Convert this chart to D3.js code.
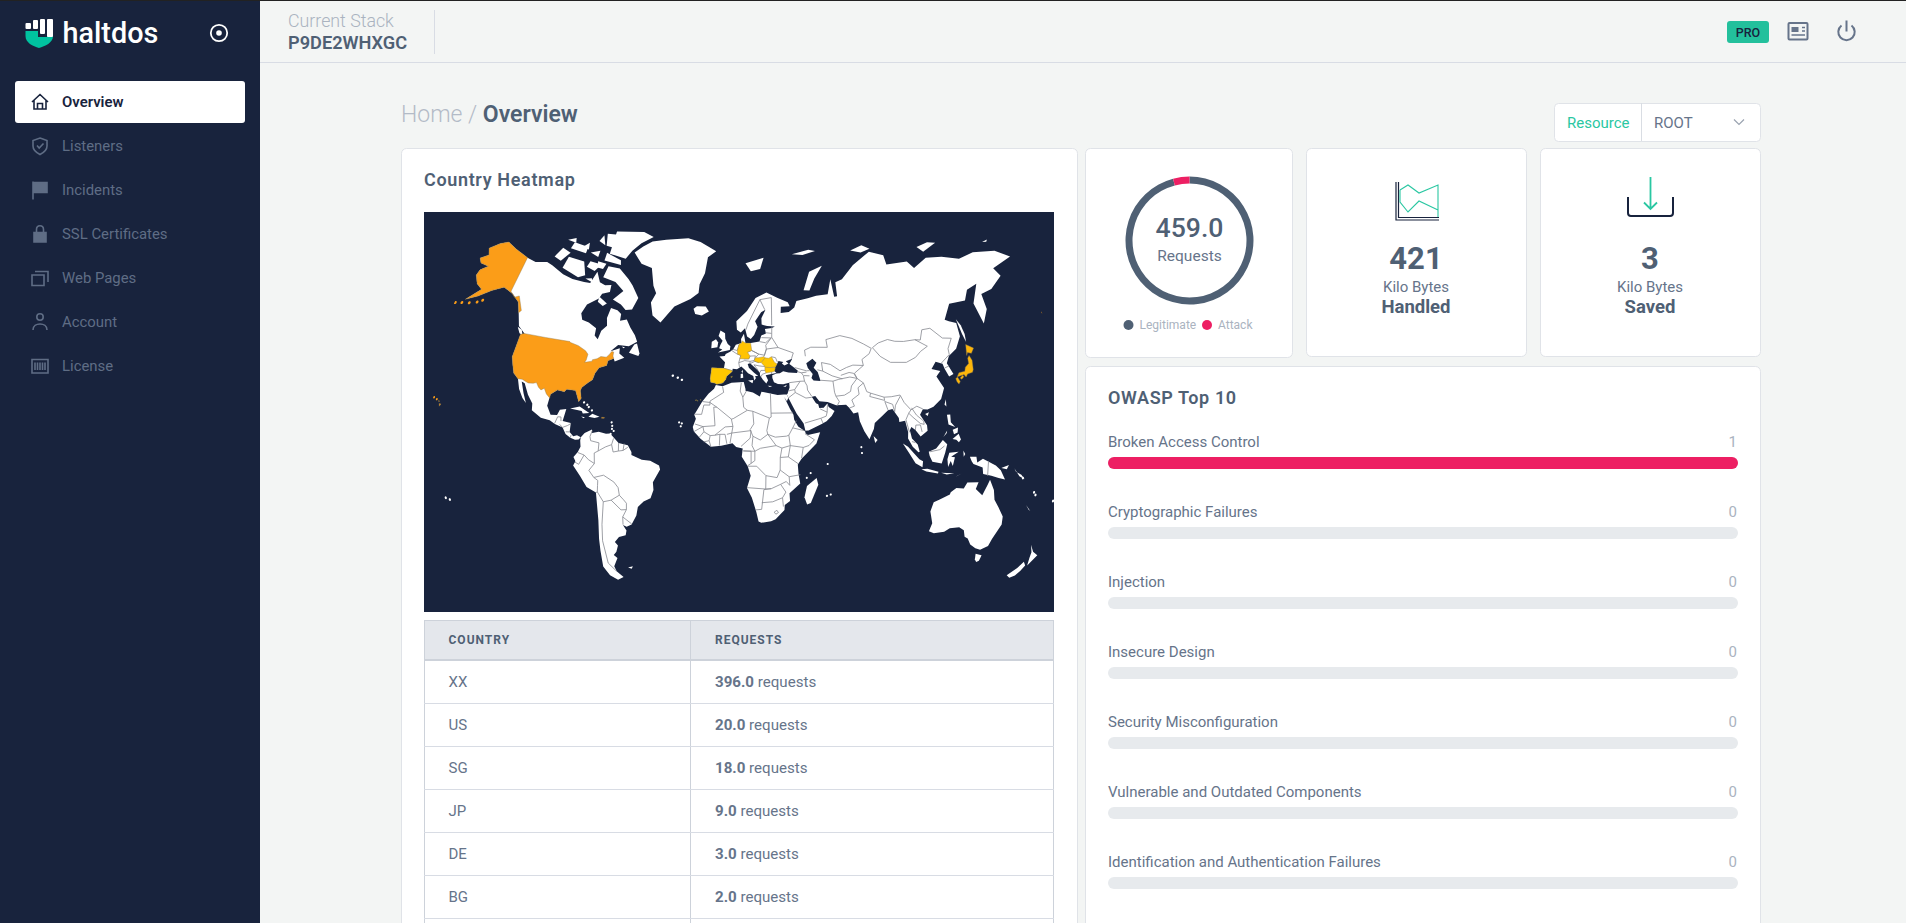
<!DOCTYPE html>
<html>
<head>
<meta charset="utf-8">
<script src="https://cdn.jsdelivr.net/npm/d3@7"></script>
<style>
  html, body { margin: 0; padding: 0; background: #f3f5f4; overflow: hidden; }
  svg { display: block; font-family: Roboto, "Noto Sans", sans-serif; }
</style>
</head>
<body>
<div id="wrapper"></div>
<script>
// table + owasp values
const navItems = ["Overview", "Listeners", "Incidents", "SSL Certificates", "Web Pages", "Account", "License"]
const countries = ["XX", "US", "SG", "JP", "DE", "BG"]
const requests = [396, 20, 18, 9, 3, 2]
const owaspNames = ["Broken Access Control", "Cryptographic Failures", "Injection", "Insecure Design",
  "Security Misconfiguration", "Vulnerable and Outdated Components", "Identification and Authentication Failures"]
const owaspValues = [1, 0, 0, 0, 0, 0, 0]
const donutNames = ["Legitimate", "Attack"]
const donutValues = [440, 19]

// map data, all [lon, lat]
const northAmerica = [[-168,65.6],[-164,67],[-166,68.4],[-161,70.3],[-156.5,71.3],[-150,70.5],[-141,69.6],[-135,69.3],[-128,70.2],[-124,69.8],[-115,68.5],[-108,68],[-100,68],[-96,68.2],[-94,71.5],[-90,69],[-86,68.5],[-82,69],[-81.5,67],[-86,66],[-87,64.5],[-93,62],[-94.5,59],[-92.5,57],[-88,56.5],[-82.5,55],[-82,52.5],[-79.5,51.3],[-79,54.5],[-76.5,56.5],[-78,59],[-77.5,62.4],[-73,62],[-70,61],[-69.5,58.8],[-65.5,59.5],[-62,57],[-58,54.5],[-55.7,52.2],[-60,50.2],[-66.5,50.2],[-70,47.5],[-65,49],[-64.5,47],[-61,45.5],[-66,43.6],[-67,44.8],[-70,43.7],[-70,41.7],[-74,40.5],[-75.5,38],[-76,35.2],[-78,33.9],[-81,31.5],[-81.3,30],[-80,26.8],[-81,25.1],[-82.7,28],[-84,30],[-89,30.2],[-90,29.1],[-94,29.6],[-97.2,27.5],[-97.7,22.5],[-95,18.6],[-91.5,18.6],[-90.4,21],[-87,21.5],[-88,16],[-83.5,15.2],[-83.6,11],[-81.5,9],[-79.5,9.5],[-77.4,8.6],[-78.5,7.5],[-80.4,7.3],[-83,8.3],[-85.7,10],[-87.6,13],[-92,14.5],[-95,16],[-100,17],[-105.5,20],[-106,23],[-109.4,26.5],[-112.8,31],[-114.7,31.6],[-112,27],[-109.5,23],[-112,25],[-115,28.5],[-117.2,32.5],[-120.5,34.5],[-122.5,37.5],[-124.4,40.4],[-124.6,48.3],[-122.5,48.9],[-127.5,51],[-130.5,54.5],[-134,58],[-139.5,59.8],[-146,60.8],[-152,59],[-158,56.5],[-164,54.7],[-158,58.5],[-162,59.5],[-165,61.5],[-164.5,63],[-161,64.5],[-166,64.6]]
const southAmerica = [[-77.4,8.6],[-75.5,10.7],[-71.7,12.4],[-71.5,10.8],[-68,11.5],[-64,10.5],[-61.8,10.7],[-57,6],[-52,5],[-50,1.5],[-50,0],[-44.5,-2.5],[-40,-3],[-35.3,-5.5],[-34.8,-7.5],[-37,-11],[-39,-14],[-39,-18],[-41,-22],[-45,-23.5],[-48.5,-26],[-50,-30],[-53.5,-34],[-56.5,-34.8],[-58.4,-34],[-57,-36.5],[-58,-38.5],[-62,-39],[-65,-41],[-63.7,-42.5],[-65.5,-45],[-67.5,-46.2],[-65.8,-47.5],[-69,-50.5],[-68.4,-52.4],[-65.2,-54.8],[-69,-55.5],[-73,-53.5],[-75.5,-50],[-74.5,-44],[-73.5,-39],[-71.5,-31],[-70.3,-18.3],[-75,-15.5],[-78,-10],[-81.3,-5],[-80,-3],[-81,-1],[-78.7,1.5],[-77.3,4],[-77.6,7]]
const africa = [[-5.9,35.8],[-2,35.2],[3,36.9],[10,37.3],[11,34],[11,33.2],[15.2,32.3],[19,30.3],[20,32.7],[25,31.7],[29,31],[32.5,31.2],[34.2,31.2],[34.9,29.5],[34,27.8],[32.6,29.9],[35.5,24],[37.2,21],[37.5,18.5],[39.5,15],[43.2,12.3],[43.3,11.5],[44.5,10.5],[51.2,11.9],[49,6],[44,1],[41,-2],[39,-5],[39.5,-10],[40.6,-15],[35,-20],[35.5,-24],[32.7,-26],[32.7,-28.5],[28,-33],[25.5,-34],[20,-34.8],[18.4,-34.2],[17,-29.5],[14.5,-22.5],[11.8,-17.5],[13.8,-11],[12.2,-6],[9,-1],[9.5,3.5],[6,4.3],[4,6.3],[-2,5],[-7.5,4.4],[-13,8.5],[-16.8,12.4],[-17.5,14.7],[-16,19],[-17,21],[-13,27.7],[-9.8,31.5],[-6.8,34]]
const eurasia = [[-9.3,38.7],[-8.9,37],[-6.3,36.6],[-5.4,36.1],[-2,36.8],[-0.3,38.5],[0,39.8],[3.2,42],[3.5,43.3],[6,43],[8.5,44.3],[10.5,42.9],[12.5,41.3],[15.5,40],[16,38],[17,39],[16.6,40],[18.4,40],[16,41.5],[13,43.7],[12.3,45.3],[13.7,45.7],[14.7,45],[18,42.7],[19.4,41.5],[19.4,40.3],[21,38.3],[22.9,36.5],[24,38],[22.7,40.3],[26,40.8],[29,41.2],[27.5,42.5],[28.6,44],[29.7,45.2],[30.7,46.5],[33.5,46],[32.6,45.3],[34,44.4],[36.5,45.2],[35,46.2],[39,47.2],[37,45],[39,43.8],[41.6,42],[41,41],[36,41.3],[33,42],[31,41.1],[29,41],[26.5,40.3],[26.5,39],[27.3,37],[29.5,36.2],[32.5,36],[36,36.7],[36,34.5],[34.6,31.5],[34.2,31.2],[34.9,29.5],[37,25.5],[39,21.5],[42.5,16.5],[43.3,12.8],[45,12.8],[52,16],[55,17.5],[58,20],[59.8,22.5],[56.8,24.5],[56.3,26.2],[54,24.2],[51.6,24.2],[51.2,26],[50,26.5],[48,29.8],[50,30],[52,27.5],[56.5,27],[61,25.2],[66.5,25.3],[68,23.8],[70,21],[72.6,21.5],[73,17],[75,12],[77.5,8],[80.2,13],[81,16],[86.5,20],[89,21.8],[91.5,22.3],[94.3,18],[94.3,16],[97.5,16.5],[98.5,11],[98.2,8],[100.5,4],[103.5,1.3],[104.2,1.5],[103.2,5],[100.3,8],[99.5,12],[100.5,13.5],[102.5,12],[105,8.8],[109,11.5],[109,14],[106,19],[108,21.5],[110.5,21.2],[114,22.3],[119,25.5],[122,30],[121,32],[119.5,35],[122.5,37],[118,38.2],[121.5,40.8],[125,39.7],[125.3,37.7],[126.5,34.5],[129.3,35.3],[127.5,39.7],[130,42.3],[135.5,44.5],[140.3,48.5],[141.3,53],[137.5,54],[135.5,54.8],[142,59.2],[152,59],[156,61.7],[163,62.5],[156,57.5],[156.7,51],[162,55],[163,59.5],[170,60],[179,62.5],[177,64.8],[190,66],[183,68.5],[170,70],[160,69.7],[150,71.5],[140,72.5],[130,71],[127,73],[113,73.7],[113,76],[104,77.7],[90,75.5],[80,72.5],[75,72],[74,68],[72,68],[72,73],[68,69],[60,69],[54,68.5],[46,68],[44,66],[40,64.7],[34.5,64.5],[35,66.5],[41,66.5],[40,67.8],[33,69.4],[25.8,71.1],[18,69.5],[12,65.5],[5,62],[5.5,59],[8,58],[10.7,59.5],[12,56.5],[14.3,55.5],[16.5,57],[18.8,60],[17.3,62],[21.5,65],[24.5,65.8],[21.5,63],[21.5,60.8],[25,60.2],[30,60],[28,59.5],[23.5,59.2],[24,57.5],[21,56.8],[19.7,54.5],[14.3,54],[11,54],[10,57.5],[8.2,55.5],[8.5,54],[5,53.3],[3.5,51.5],[1.6,50.5],[-1,49.5],[-1.5,48.7],[-4.7,48.4],[-1.2,46],[-1.7,43.4],[-8.9,43.5]]
const australia = [[114,-21.8],[117,-20.5],[122,-18],[122.3,-17],[125,-15],[129,-15],[130.5,-12.3],[136.5,-12],[135.5,-15],[139.5,-17.5],[141.5,-13],[142.5,-10.7],[145.3,-15],[146.5,-19],[149.5,-22],[153,-25.5],[153.6,-28.6],[150.8,-34.5],[150,-37.3],[146.4,-39.1],[143.5,-38.8],[140,-37.7],[137.5,-35.5],[135.5,-35],[134,-32.5],[131,-31.5],[126,-32.3],[123.5,-34],[118,-35],[115,-34.4],[115.7,-31],[113.2,-26]]
const greenland = [[-73,78.2],[-66,76],[-58,75.5],[-54,71],[-51,69],[-53,66],[-50,62],[-44,60],[-41,62.5],[-37,65.7],[-27,68.5],[-22,70.5],[-22,73],[-19,76],[-18,80],[-12,81.5],[-25,83.2],[-35,83.6],[-52,82.5],[-62,81.5],[-68,80]]
const islands = [
  [[-80,73.7],[-72,71.5],[-68,70],[-62,66.8],[-64,63],[-68,62.5],[-72,64],[-78,65],[-73,68],[-80,70],[-89,70.5],[-88,73.5]],
  [[-117,70],[-105,68.8],[-101,69.8],[-105,73],[-116,73]],
  [[-125,72],[-120,71.5],[-116,74],[-122,74.5]],
  [[-90,76.5],[-78,76.3],[-75,78.5],[-62,82.5],[-70,83],[-90,81.5]],
  [[-92,74.6],[-80,74.6],[-81,75.7],[-92,76.5]],
  [[-117,75],[-106,75],[-106,76.5],[-116,76.5]],
  [[-94,78],[-88,78],[-88,81],[-96,80.5]],
  [[-87,65],[-81,63.5],[-83,62.5],[-87,63.5]],
  [[-59,47.7],[-53,46.7],[-52.7,47.8],[-55.5,51.5],[-57,51]],
  [[-128,50.7],[-125,50],[-123.4,48.4],[-125.5,48.8]],
  [[-102,72],[-96,71.5],[-93,73.5],[-101,73.5]],
  [[-96,74],[-90,74],[-91,72.5],[-95,72.5]],
  [[-121,76.5],[-115,76.5],[-116,77.5]],
  [[-103,75.5],[-97,75],[-97,76.5]],
  [[-100,69],[-95,68.5],[-96,69.5]],
  [[-110,76],[-105,76],[-106,77.5]],
  [[-100,78.5],[-95,78],[-98,80]],
  [[-64,49.8],[-62,49.5],[-63,49.2]],
  [[-24,65.5],[-22,66.4],[-16,66.5],[-13.6,65],[-18,63.5],[-22.5,63.9]],
  [[-85,21.9],[-80,23],[-74.2,20.2],[-77.7,19.9],[-78.5,21]],
  [[-74.4,18.5],[-72.5,20],[-68.4,18.7],[-71,18]],
  [[-78.3,18.4],[-76.3,18.2],[-77,17.7]],
  [[-5.7,50],[1.4,51.2],[1.7,52.7],[0,53.5],[-1.7,55.5],[-2,57.6],[-5,58.6],[-6,56.5],[-3.3,54.8],[-4.5,53.2],[-5.2,51.8],[-3.2,51.3]],
  [[-10,51.7],[-6.3,52.2],[-6,54],[-7.5,55.3],[-10,54.2]],
  [[12.5,38],[15.5,38.2],[15,36.7]],
  [[8.2,39],[9.7,39.2],[9.5,41.2],[8.2,40.9]],
  [[8.6,41.9],[9.5,42.8],[9.4,41.4]],
  [[23.6,35.5],[26.2,35.3],[24.8,34.9]],
  [[32.4,35],[34.5,35.6],[33.9,34.8]],
  [[11,79],[25,80.2],[22,77.5],[15,77]],
  [[52,71],[56,70.7],[68,76.8],[58,75.8]],
  [[49.3,-12],[50.4,-15.5],[47,-24.8],[45,-25.5],[43.3,-22],[44.3,-16.2]],
  [[79.8,9.5],[81.8,7.5],[80.5,6]],
  [[108.8,19.3],[111,20],[110,18.3]],
  [[120.2,23],[121.5,25.2],[121,22]],
  [[142,54.2],[143.3,52],[143.5,49],[142.5,46.2],[142,49]],
  [[120.5,18.4],[122.3,18.4],[122,15],[124,12.7],[120.6,14]],
  [[122,7.3],[125.5,9.7],[126.5,7],[125.3,5.8],[124,7]],
  [[122.5,11.5],[125.5,12.5],[125,10.2],[123,9.5]],
  [[117.2,8.4],[119.5,11.3],[119.2,10.2]],
  [[95.3,5.6],[98,4],[104,-2],[106,-3],[105.8,-5.8],[102,-4],[98.5,1]],
  [[105.3,-6.8],[108.5,-6.5],[114.5,-7.8],[114.3,-8.7],[108,-7.8]],
  [[109,1.5],[113,3],[116.8,7],[119,5],[117.8,1],[116,-4],[111,-3.2],[109.5,-0.5]],
  [[119.5,-5.5],[119,-2],[120,1],[125,1.5],[121,-0.8],[123,-1],[122,-5],[120.8,-2.8]],
  [[131,-0.8],[134.5,-0.8],[135,-3.3],[138,-1.7],[145,-4.5],[147.8,-6.5],[150.5,-10.4],[147,-9.8],[143,-9],[138.5,-8.3],[138,-5.5],[133,-4],[132,-2.8]],
  [[116,-8.3],[119,-8.3],[123,-8.3],[119,-9]],
  [[123.5,-10.2],[127,-8.4],[125,-9.3]],
  [[127.5,2],[128.5,0.5],[127.7,-0.8]],
  [[148,-5.6],[152,-4.2],[151,-6]],
  [[155,-5.5],[156,-7],[159,-8.2],[161,-10],[158,-8.8]],
  [[164,-20.2],[167,-22.3],[166,-21.9]],
  [[144.7,-40.7],[148.3,-40.9],[148,-43],[146.8,-43.6],[145.5,-42.8]],
  [[166.5,-46],[168.5,-46.6],[171,-45.5],[172.8,-43.8],[174.2,-41.7],[172.7,-40.6],[170.5,-43]],
  [[173,-34.5],[175.5,-36.8],[178.5,-37.7],[177,-39.5],[175.3,-41.6],[174.8,-39],[174.7,-37]],
  [[91,79],[100,79.5],[105,78.3],[98,78]],
  [[137,75.5],[145,75.7],[150,75],[140,74]],
  [[178.5,71.3],[181,71],[182,71.4]],
  [[47,80.5],[60,81],[65,80.5],[55,80]],
  [[-61,-51.5],[-58,-51.3],[-59,-52.2]]
]
const caspian = [[47,45],[51,46.8],[53,45],[51,43],[53,41],[54,37],[50,37.3],[49,38.5],[50,40.3],[47.6,43]]
const tinyIslands = [[-25.5,37.7],[-28,38.6],[-31,39.4],[-61,14.5],[-61.5,16.2],[-61,13],[-61.5,10.5],[-60,12],[-24,15],[-23.5,16.5],[-25,17],[73,4],[73.3,1],[57.5,-20.3],[55.5,-21],[44,-12],[46,-9.5],[55,-4.7],[168,-16],[167,-15],[178,-17.8],[160,-9.5],[-78,25],[-76,24],[-75,23],[-73,21.5],[-149.5,-17.6],[-151.5,-16.8]]

// coloured countries
const contigUS = [[-124.7,48.4],[-123,49],[-110,49],[-95.2,49],[-94.6,48.7],[-89.5,48],[-84.5,46.5],[-82.5,45.3],[-82.5,43],[-83,42],[-79,42.8],[-79,43.4],[-76.5,44],[-74.7,45],[-71.5,45],[-70.3,46],[-69.2,47.4],[-68,47.3],[-67.8,45.7],[-67,44.8],[-70,43.7],[-70,41.7],[-74,40.5],[-75.5,38],[-76,35.2],[-78,33.9],[-81,31.5],[-81.3,30],[-80,26.8],[-81,25.1],[-82.7,28],[-84,30],[-89,30.2],[-90,29.1],[-94,29.6],[-97.2,27.5],[-97.2,25.9],[-99.5,27.5],[-101.4,29.8],[-103,29],[-104.7,30],[-106.5,31.8],[-108.2,31.4],[-111,31.3],[-114.8,32.5],[-117.2,32.5],[-120.5,34.5],[-122.5,37.5],[-124.4,40.4]]
const alaska = [[-168,65.6],[-164,67],[-166,68.4],[-161,70.3],[-156.5,71.3],[-150,70.5],[-141,69.6],[-141,60.3],[-137.5,59],[-135,59.7],[-130,55.8],[-131,55],[-134,58],[-139.5,59.8],[-146,60.8],[-152,59],[-158,56.5],[-164,54.7],[-158,58.5],[-162,59.5],[-165,61.5],[-164.5,63],[-161,64.5],[-166,64.6]]
const honshu = [[130.9,34],[132.5,35.5],[136,35.8],[137,37.3],[139.5,38.5],[140,40.5],[141.3,41.4],[142,39.5],[140.9,36],[140,35],[137,34.6],[135.7,33.5],[135,34.6],[132.5,34.2]]
const hokkaido = [[140,41.5],[141.7,45.4],[145.3,43.7],[143,42],[141,42.5]]
const kyushu = [[129.8,33.3],[131,33.9],[131.8,32],[130.7,31],[130,32]]
const shikoku = [[132.3,33.4],[134.2,34.3],[134.5,33.7],[133,32.8]]
const germany = [[6,51],[7,53.5],[8.5,54],[9,54.8],[11,54],[14.2,53.9],[14.8,51],[12.2,50.3],[13.7,48.7],[13,47.5],[7.6,47.6],[8.2,49],[6.2,49.5]]
const iberia = [[-9.3,38.7],[-8.9,37],[-6.3,36.6],[-5.4,36.1],[-2,36.8],[-0.3,38.5],[0,39.8],[3.2,42],[3.2,42.4],[-1.7,43.4],[-8.9,43.5]]
const romania = [[22.7,47.9],[24.9,47.7],[26.6,48.3],[28.2,46],[29.7,45.2],[28.6,43.9],[25.5,43.7],[22.9,43.9],[22,44.5],[20.3,46]]
const bulgaria = [[22.4,44.2],[25.5,43.7],[28.6,43.7],[28,42],[26.3,41.7],[22.9,41.3],[22.4,42.5]]
const hungary = [[16.2,46.8],[17,48],[18.8,48],[22.1,48.4],[22.7,47.9],[20.3,46],[18.8,45.9],[16.6,46.5]]
const puertoRico = [[-67.2,18.5],[-65.6,18.4],[-65.8,18],[-67.2,18]]
const hawaii = [[-156,19.9],[-155,19.8],[-155.6,18.9]]
const maui = [[-156.7,21],[-156,20.8],[-156.4,20.5]]
const balearic = [[2.4,39.6],[3.4,39.9],[3.1,39.3]]
const canaries = [[[-16.9,28.4],[-16.2,28.5],[-16.5,28]], [[-15.8,28.2],[-15.3,28],[-15.6,27.8]], [[-14.2,28.6],[-13.8,28.7],[-13.9,28.2]]]
const usDots = [[-157.8,21.4],[-159.5,22]]
const aleutianDots = [[-179.5,51.5],[-176,52],[-172,52.5],[-168,53.3],[-165.5,54.2]]
const coloredShapes = [
  { name: "US", value: 20, rings: [contigUS, alaska, hawaii, maui] },
  { name: "PR", value: 20, rings: [puertoRico] },
  { name: "JP", value: 9, rings: [honshu, hokkaido, kyushu, shikoku] },
  { name: "DE", value: 3, rings: [germany] },
  { name: "BG", value: 2, rings: [bulgaria] },
  { name: "RO", value: 2, rings: [romania] },
  { name: "HU", value: 2, rings: [hungary] },
  { name: "ES", value: 1, rings: [iberia, balearic, ...canaries] },
]

const borders = [
  [[-92.2,14.6],[-91,17.8],[-89.2,17.8],[-88.9,15.9]],[[-89.4,14.4],[-87.7,13],[-85,14],[-83.3,15]],[[-85.7,11],[-83.6,11]],[[-83,8.3],[-82.7,9.5]],
  [[-71.5,12],[-72.5,9],[-72,7],[-67.5,6],[-67.8,2]],[[-67.8,2],[-64,4],[-60.7,5.2]],[[-60.7,5.2],[-59.8,8.3]],[[-60.7,5.2],[-59.8,1.5],[-57,2],[-54.5,2.3],[-52,3.9]],[[-57,6],[-57,2]],[[-54,5.8],[-54.5,2.3]],
  [[-67.8,2],[-69.9,1],[-69.9,-4.2],[-73,-2.3],[-75.3,0],[-78.7,1.2]],[[-75.3,0],[-78.3,-4.5],[-80.3,-3.4]],[[-69.9,-4.2],[-73,-7.5],[-70.6,-11]],
  [[-70.6,-11],[-65.3,-10],[-60,-13.5],[-58,-16.3],[-57.8,-20],[-62.6,-22.2],[-67,-22.8],[-69.5,-18],[-69,-15],[-68.6,-12.5],[-70.6,-11]],[[-69.5,-18],[-70.3,-18.3]],
  [[-67,-22.8],[-70,-33],[-71.8,-40],[-72,-49],[-68.5,-52.3]],[[-62.6,-22.2],[-58,-27],[-55,-27],[-54.5,-24],[-55.8,-22.3],[-57.8,-20]],[[-55,-27],[-57.7,-30.3],[-58.3,-33.8]],[[-57.7,-30.3],[-53.4,-33.7]],
  [[-2,35],[-1.3,32.3],[-8.7,28],[-8.7,27.3]],[[-13,27.7],[-8.7,27.3],[-8.7,26],[-12,26],[-13,21.3],[-17,21.3]],[[-8.7,27.3],[-4.8,25],[-6.5,25],[-5.5,15.5],[-12,15],[-16.4,16.3]],
  [[8.6,36.9],[8,33],[9.5,30],[10,25],[12,23.5]],[[11.5,33],[9.5,30]],[[-4.8,25],[3.3,19],[4.3,19.2],[12,23.5]],[[3.3,19],[4.2,15.2],[0,14.9],[-5.5,10.5],[-8,10.3],[-11.4,12.3],[-12,15]],
  [[25,31.7],[25,20]],[[25,22],[37,22]],[[12,23.5],[15,23],[24,19.5],[25,20]],[[15,23],[15.5,16.5],[13.5,13.5],[15,10],[18.9,8],[23,11],[22.5,13],[24,19.5]],
  [[4.2,15.2],[3.6,11.7],[14,13]],[[3.6,11.7],[2.7,6.3]],[[14,13],[13.5,9],[8.6,4.6]],[[15,10],[14.5,5],[16,2],[9.8,2.2]],[[27.4,5],[19,3.6],[16,2]],
  [[23,11],[27,9.5],[33,10],[34.3,10.5],[35,5],[30.5,3.7],[27.4,5],[23,11]],[[34.3,10.5],[36.5,14.3],[38.6,18]],[[36.5,14.3],[42.8,12.8]],
  [[43,11.2],[48,8],[45,5],[41.9,4],[35,5]],[[41.9,4],[41,-1.6]],[[33.9,-1],[39.2,-4.6]],[[35,5],[33.9,-1],[29.6,-1.3],[30.5,3.7]],
  [[12.2,-6],[17,-6],[22,-11],[28,-12],[29.6,-8],[29.6,-1.3]],[[9.8,2.2],[14,2],[14,-4.5],[12.2,-5.7]],[[16,2],[16,-3],[14,-4.5]],
  [[29.6,-8],[34.5,-11.5],[40.5,-10.4]],[[34.5,-11.5],[35,-16],[33,-14]],[[22,-11],[22,-18],[11.8,-17.3]],[[25,-17.8],[21,-18.3],[20,-28.3],[16.5,-28.6]],
  [[22,-18],[25,-17.8],[30,-15.5],[33,-14]],[[30,-15.5],[33,-19.5],[31.3,-22.4]],[[20,-25],[26,-24.5],[31.3,-22.4],[32,-26.8]],[[27,-29.6],[28.5,-28.7],[29.4,-29.8],[28,-30.6],[27,-29.6]],
  [[-8,10.3],[-8.5,7.6],[-7.5,4.4]],[[-11.4,12.3],[-13.7,9.5]],[[-11.4,7],[-8.5,7.6]],[[-3,5],[-2.8,11],[0,11],[1,6]],[[-5.5,10.5],[-2.8,11]],[[1,11],[3.6,11.7]],[[-12,15],[-16.7,12.4]],
  [[36,36.7],[42.3,37.2],[44.8,37.2]],[[44.8,37.2],[44.5,39.7],[43.5,41]],[[41.6,41.5],[43.5,41]],[[39.9,43.4],[46.5,41.8],[48.5,41.8]],[[43.5,41],[46.5,41.2]],[[44.8,39.7],[48,39.5]],
  [[44.8,37.2],[46,35],[46,33],[48,30]],[[39,32],[44.7,29.2],[48,29.5]],[[35,29.5],[39,32],[38.8,33.4],[36,33],[35.5,32.7]],[[38.8,33.4],[42.3,37.2]],
  [[43.2,16.7],[52,19],[55,20],[55.7,22],[52,23.7]],[[52,19],[53,16.6]],[[55.7,22],[56.3,25.8]],
  [[54,37.3],[61,36.6],[61,31.5],[61.5,29.6],[63,27],[61.6,25]],[[61,36.6],[64.5,37.3],[71,38],[74.9,37.2],[71,34],[70,31.5],[66.3,29.9],[61.5,29.6]],
  [[53,42],[56,41.3],[56,45],[61,44],[66,41],[70,42.2],[74,43],[80,42.5]],[[56,41.3],[61,39],[66.5,37.4]],[[66,39],[71,40],[73.5,39.5],[74.9,37.2]],
  [[47,48],[47,50.5],[51,51.5],[61,51],[61,54],[70,55],[77,53.5],[83,51],[87,49]],[[87,49],[85,47],[80,45],[80,42.5]],
  [[87.8,49.2],[92,50.7],[98,51.5],[102,50.5],[107,50],[114,50],[119.8,47],[115,45.5],[111,43.5],[105,42],[96,42.7],[91,45.5],[87.8,49.2]],
  [[114,50],[117,49.6],[120,53],[125,53],[130,49],[135,48.4],[131,45],[130.5,42.8]],[[130.5,42.8],[124.4,40]],[[125.5,38],[128.3,38.6]],
  [[80,42.5],[74,39.5],[74.9,37.2],[78,35],[79,31],[81,30.2],[88,28],[92,28],[97,28.5],[98.5,25],[101.5,21.5],[105,23],[108,21.6]],
  [[78,35],[74.5,33],[74.5,30],[70,27.5],[71,24.5],[68.2,23.7]],[[81,30.2],[80.2,28.7],[88,26.5],[88,28]],[[88,26],[89,22]],[[88,26],[92,24.5],[92.5,21]],[[97,28],[93.5,24],[92.5,21]],
  [[101.5,21.5],[100,20],[98,17],[99.2,11]],[[102,22.4],[104,19],[107.5,16],[107.5,14.5]],[[100,20],[102,18],[105.5,15],[107.5,14.5]],[[102.5,12],[103,14.3],[105.5,14.3],[106,11]],[[100.2,6.5],[102,6]],
  [[109.5,1.5],[115,2.5],[117.5,4.2]],[[141,-2.6],[141,-9.1]],
  [[29,69.5],[28,60.5]],[[29,69.5],[21,69],[24,65.8]],[[21,69],[12.5,61],[11.3,59]],[[28,60],[27.5,56],[31,52],[40,49.6],[38.5,47.2]],[[27.5,56],[23.5,53],[23.8,51.5],[31,52]],[[23.8,51.5],[22.1,48.4]],[[26.6,48.3],[29,47.9],[30,46]],
  [[19.7,54.5],[23.5,54]],[[14.8,51],[19,49.5],[22.5,49],[23.8,51.5]],[[21,56],[27,55.8],[23.5,54]],[[24,57.8],[27.5,57.5]],
  [[2.5,51],[6,49.5],[8.2,49],[7.6,47.6],[7,45.9],[7.5,43.8]],[[-1.7,43.4],[3.2,42.4]],[[3.4,51.4],[6,51],[7,53.3]],[[7,45.9],[10.5,46.8],[13.7,46.5],[13.7,45.6]],[[10,47.5],[13,47.6],[13.7,48.7],[17,48.8],[16.2,46.8],[13.7,46.5]],
  [[12.2,50.3],[14.8,51],[19,49.5],[17,48]],[[13.7,45.5],[16.6,46.5],[19,45.9]],[[22.4,44.2],[19,44.5],[16,45],[18.5,42.5]],[[22.4,42.5],[20,42.5],[19.4,41.5]],[[22.9,41.3],[20.8,40.8],[20,39.7]],[[26.3,41.7],[26,40.8]]
]

const NAVY = "#18233d", SLATE = "#4f6074", MUTED = "#66748a", PALE = "#aab3c0", LINE = "#d8dce4", GREEN = "#23c09c", PINK = "#ed1f63"
const svg = d3.select("#wrapper").append("svg").attr("width", 1906).attr("height", 923)

svg.append("rect").attr("width", 1906).attr("height", 923).attr("fill", "#f3f5f4")
svg.append("rect").attr("width", 1906).attr("height", 1).attr("fill", "#222")
svg.append("line").attr("x1", 260).attr("x2", 1906).attr("y1", 62.5).attr("y2", 62.5).attr("stroke", LINE)

const label = (parent, x, y, txt, size, color, weight = 400, anchor = "start") => parent.append("text")
  .attr("x", x).attr("y", y).attr("font-size", size).attr("fill", color).attr("font-weight", weight)
  .attr("text-anchor", anchor).attr("dominant-baseline", "central").text(txt)

// sidebar
const side = svg.append("g")
side.append("rect").attr("y", 1).attr("width", 260).attr("height", 922).attr("fill", NAVY)
side.append("path").attr("d", "M25.5 31H38V37H47V31H53V36C53 43 45 46 39 48C33 46 25.5 43 25.5 36Z").attr("fill", "#00c2a0")
;[[25.5, 23, 5.5, 6], [33, 20, 5, 9], [40, 19, 5, 15], [47, 19, 6, 18]].forEach(d => side.append("rect")
  .attr("x", d[0]).attr("y", d[1]).attr("width", d[2]).attr("height", d[3]).attr("rx", 1).attr("fill", "#fff"))
label(side, 62.5, 33, "haltdos", 28.8, "#fff", 500)
side.append("circle").attr("cx", 219).attr("cy", 33).attr("r", 8.2).attr("fill", "none").attr("stroke", "#fff").attr("stroke-width", 1.8)
side.append("circle").attr("cx", 219).attr("cy", 33).attr("r", 2.8).attr("fill", "#fff")
side.append("rect").attr("x", 15).attr("y", 81).attr("width", 230).attr("height", 42).attr("rx", 3).attr("fill", "#fff")

const navY = d3.scalePoint().domain(navItems).range([102, 366])
const navIcons = [
  "M-8 0L0 -7.5L8 0M-6 -1.5V7H6V-1.5M-2.5 7V1.5H2.5V7",
  "M0 -8L7 -5.5V0C7 4 4 6.5 0 8.5C-4 6.5 -7 4 -7 0V-5.5ZM-3 -0.5L-0.8 2L3.5 -2.5",
  "M-7 -8.5V9.5M-6 -7.5H7V2.5H-6Z",
  "M-6 -1.5H6V8H-6ZM-3.5 -1.5V-4.5C-3.5 -9.5 3.5 -9.5 3.5 -4.5V-1.5",
  "M-8 -3H4V7.5H-8ZM-5 -6.5H8V4",
  "M-7 8C-7 0 7 0 7 8M3.2 -5A3.2 3.2 0 1 1 -3.2 -5A3.2 3.2 0 1 1 3.2 -5",
  "M-8 -6.5H8V7H-8ZM-5 -3.5V4M-2.5 -3.5V4M0 -3.5V4M2.5 -3.5V4M5 -3.5V4",
]
navItems.forEach((d, i) => {
  const active = i === 0
  side.append("path").attr("transform", `translate(40,${navY(d)})`).attr("d", navIcons[i])
    .attr("fill", i === 2 ? "#5f6d85" : "none").attr("stroke", active ? NAVY : "#5f6d85").attr("stroke-width", 1.6)
  if (i === 3) side.append("rect").attr("x", 34).attr("y", navY(d) - 1.5).attr("width", 12).attr("height", 9.5).attr("fill", "#5f6d85")
  label(side, 62, navY(d), d, 14.9, active ? NAVY : "#5f6d85", active ? 600 : 400)
})

// header
label(svg, 288, 20, "Current Stack", 17.8, PALE, 300)
label(svg, 288, 42, "P9DE2WHXGC", 18.2, SLATE, 600)
svg.append("line").attr("x1", 434.5).attr("x2", 434.5).attr("y1", 10).attr("y2", 54).attr("stroke", LINE)
svg.append("rect").attr("x", 1727).attr("y", 21).attr("width", 42).attr("height", 22).attr("rx", 3).attr("fill", GREEN)
label(svg, 1748, 32.5, "PRO", 12.5, NAVY, 500, "middle")
const headIcons = svg.append("g").attr("fill", "none").attr("stroke", "#66748a").attr("stroke-width", 2)
headIcons.append("rect").attr("x", 1788.5).attr("y", 23).attr("width", 19).attr("height", 16.5).attr("rx", 1)
headIcons.append("path").attr("d", "M1802 27.5H1805M1802 31H1805M1791.5 35H1805").attr("stroke-width", 1.4)
headIcons.append("rect").attr("x", 1791.5).attr("y", 27).attr("width", 7).attr("height", 5).attr("fill", "#66748a").attr("stroke", "none")
headIcons.append("path").attr("d", "M1841.5 25.5A8.2 8.2 0 1 0 1851.5 25.5M1846.5 20.5V31.5")

// breadcrumb + resource select
const crumb = svg.append("text").attr("x", 401).attr("y", 114).attr("font-size", 23).attr("dominant-baseline", "central")
crumb.append("tspan").attr("fill", "#b3bbc7").attr("font-weight", 300).text("Home / ")
crumb.append("tspan").attr("fill", SLATE).attr("font-weight", 600).text("Overview")
const card = (x, y, w, h, r = 5) => svg.append("rect").attr("x", x + .5).attr("y", y + .5).attr("width", w).attr("height", h).attr("rx", r)
  .attr("fill", "#fff").attr("stroke", "#e0e3e8")
card(1554, 103, 206, 38, 4)
svg.append("line").attr("x1", 1641.5).attr("x2", 1641.5).attr("y1", 103).attr("y2", 141).attr("stroke", "#d9dde3")
label(svg, 1567, 122.5, "Resource", 15, "#2ac7a2")
label(svg, 1654, 122.5, "ROOT", 15, MUTED)
svg.append("path").attr("d", "M1734 119.5L1739 124.5L1744 119.5").attr("fill", "none").attr("stroke", "#9aa3b0").attr("stroke-width", 1.2)

// cards
card(401, 148, 676, 800)
card(1085, 148, 207, 209)
card(1306, 148, 220, 208)
card(1540, 148, 220, 208)
card(1085, 366, 675, 600)

// heatmap
label(svg, 424, 179, "Country Heatmap", 18, SLATE, 600).attr("letter-spacing", .65)
const mapX = 424, mapY = 212, mapW = 630, mapH = 400
svg.append("rect").attr("x", mapX).attr("y", mapY).attr("width", mapW).attr("height", mapH).attr("fill", NAVY)
svg.append("clipPath").attr("id", "mapClip").append("rect").attr("x", mapX).attr("y", mapY).attr("width", mapW).attr("height", mapH)

// miller latitudes, meridians pulled in toward the poles
const mapRaw = (lam, phi) => {
  const lon = lam * 180 / Math.PI, lat = phi * 180 / Math.PI
  return [lon * (1.87 - 9e-5 * lat * lat),
    133.75 * Math.log(Math.tan(Math.PI / 4 + 0.4 * phi)) + 2.5e-5 * lat * lon * lon]
}
const projection = d3.geoProjection(mapRaw).rotate([-11, 0]).scale(1).translate([745.5, 455])
const geoPath = d3.geoPath(projection)
// the aleutians sit left of the cut at -169, so they get an uncut copy
const shiftedRaw = (lam, phi) => mapRaw(lam - 11 * Math.PI / 180, phi)
const aleutianPath = d3.geoPath(d3.geoProjection(shiftedRaw).scale(1).translate([745.5, 455]))
const toPolygon = ring => {
  const closed = [...ring, ring[0]]
  const poly = { type: "Polygon", coordinates: [closed] }
  if (d3.geoArea(poly) > 2 * Math.PI) poly.coordinates = [closed.slice().reverse()]
  return poly
}
const heat = d3.scaleLinear().domain([1, 20]).range(["#ffc800", "#fb9d18"])
const map = svg.append("g").attr("clip-path", "url(#mapClip)")
const land = [northAmerica, southAmerica, africa, eurasia, australia, greenland, ...islands]
map.selectAll("path.land").data(land).join("path").attr("class", "land").attr("d", d => geoPath(toPolygon(d))).attr("fill", "#fff")
map.selectAll("path.dot").data(tinyIslands).join("path").attr("class", "dot")
  .attr("d", d => geoPath(d3.geoCircle().center(d).radius(0.55)())).attr("fill", "#fff")
map.append("path").attr("d", geoPath(toPolygon(caspian))).attr("fill", NAVY)
map.selectAll("path.border").data(borders).join("path").attr("class", "border")
  .attr("d", d => geoPath({ type: "LineString", coordinates: d })).attr("fill", "none").attr("stroke", "#85888f").attr("stroke-width", .8)
coloredShapes.forEach(c => {
  map.selectAll(null).data(c.rings).join("path").attr("d", d => geoPath(toPolygon(d)))
    .attr("fill", heat(c.value)).attr("stroke", "#8c7a50").attr("stroke-width", .4)
})
map.selectAll(null).data(usDots).join("path")
  .attr("d", d => geoPath(d3.geoCircle().center(d).radius(0.45)())).attr("fill", heat(20))
map.selectAll(null).data(aleutianDots).join("path")
  .attr("d", d => aleutianPath(d3.geoCircle().center(d).radius(0.45)())).attr("fill", heat(20))

// table
const table = svg.append("g")
const tableX = 424, tableW = 630, splitX = 690.5
const rowY = d3.scaleLinear().domain([0, 1]).range([661, 704])
table.append("rect").attr("x", tableX).attr("y", 620).attr("width", tableW).attr("height", 40).attr("fill", "#e4e7ec")
table.append("rect").attr("x", tableX + .5).attr("y", 620.5).attr("width", tableW - 1).attr("height", 320).attr("fill", "none").attr("stroke", "#cdd2da")
table.append("line").attr("x1", tableX).attr("x2", tableX + tableW).attr("y1", 660).attr("y2", 660).attr("stroke", "#cdd2da").attr("stroke-width", 2)
table.append("line").attr("x1", splitX).attr("x2", splitX).attr("y1", 620).attr("y2", 923).attr("stroke", "#cdd2da")
label(table, 448.5, 639.5, "COUNTRY", 12, SLATE, 700).attr("letter-spacing", 1)
label(table, 715, 639.5, "REQUESTS", 12, SLATE, 700).attr("letter-spacing", 1)
countries.forEach((c, i) => {
  const y = rowY(i)
  table.append("line").attr("x1", tableX).attr("x2", tableX + tableW).attr("y1", rowY(i + 1) - .5).attr("y2", rowY(i + 1) - .5).attr("stroke", "#d8dce4")
  label(table, 448.5, y + 20.5, c, 15, MUTED, 400)
  const cell = table.append("text").attr("x", 715).attr("y", y + 21).attr("font-size", 15.1).attr("fill", MUTED).attr("dominant-baseline", "central")
  cell.append("tspan").attr("font-weight", 700).text(d3.format(".1f")(requests[i]))
  cell.append("tspan").text(" requests")
})

// donut
const cx = 1189.5, cy = 240.5
const pie = d3.pie().sort(null)(donutValues)
const arc = d3.arc().innerRadius(57).outerRadius(64)
const donutColor = d3.scaleOrdinal().domain(donutNames).range(["#4f6074", PINK])
svg.selectAll("path.slice").data(pie).join("path").attr("class", "slice").attr("transform", `translate(${cx},${cy})`)
  .attr("d", arc).attr("fill", (d, i) => donutColor(donutNames[i]))
label(svg, cx, 227, d3.format(".1f")(d3.sum(donutValues)), 26.6, SLATE, 500, "middle")
label(svg, cx, 256, "Requests", 15.5, MUTED, 400, "middle")
;[[1128.5, 1139.5], [1207, 1218]].forEach((p, i) => {
  svg.append("circle").attr("cx", p[0]).attr("cy", 325).attr("r", 5).attr("fill", donutColor(donutNames[i]))
  label(svg, p[1], 325, donutNames[i], 12, PALE)
})

// handled / saved
const kpis = [{ x: 1416, big: "421", txt: "Handled" }, { x: 1650, big: "3", txt: "Saved" }]
kpis.forEach(k => {
  label(svg, k.x, 258, k.big, 31, SLATE, 700, "middle")
  label(svg, k.x, 287, "Kilo Bytes", 15, MUTED, 400, "middle")
  label(svg, k.x, 306.5, k.txt, 18.5, SLATE, 700, "middle")
})
const chartIcon = svg.append("g").attr("fill", "none").attr("transform", "translate(1394,182)")
chartIcon.append("path").attr("d", "M2 0V38H45M4.5 0V35.5H45").attr("stroke", NAVY).attr("stroke-width", 1.2)
chartIcon.append("path").attr("d", "M6 8L14 3L25 11L44 3V35M6 8V20L14 30L25 19L44 28").attr("stroke", "#2ac7a2").attr("stroke-width", 1.1)
const saveIcon = svg.append("g").attr("fill", "none").attr("transform", "translate(1627,177)")
saveIcon.append("path").attr("d", "M23.5 0V32M17 25.5L23.5 32L30 25.5").attr("stroke", "#2ac7a2").attr("stroke-width", 1.8)
saveIcon.append("path").attr("d", "M1 20V36C1 38 2 39 4 39H43C45 39 46 38 46 36V20").attr("stroke", NAVY).attr("stroke-width", 2)

// owasp
label(svg, 1108, 397.5, "OWASP Top 10", 18, SLATE, 600).attr("letter-spacing", .6)
const rowScale = d3.scaleLinear().domain([0, 1]).range([457, 527])
const barScale = d3.scaleLinear().domain([0, 1]).range([1108, 1738])
const rows = svg.selectAll("g.row").data(owaspNames).join("g").attr("class", "row")
rows.append("rect").attr("x", barScale(0)).attr("y", (d, i) => rowScale(i)).attr("width", barScale(1) - barScale(0)).attr("height", 12).attr("rx", 6).attr("fill", "#e7eaed")
rows.append("rect").attr("x", barScale(0)).attr("y", (d, i) => rowScale(i)).attr("width", (d, i) => barScale(owaspValues[i]) - barScale(0)).attr("height", 12).attr("rx", 6).attr("fill", PINK)
rows.append("text").attr("x", barScale(0)).attr("y", (d, i) => rowScale(i) - 15.5).attr("font-size", 15).attr("fill", MUTED).attr("dominant-baseline", "central").text(d => d)
rows.append("text").attr("x", 1737).attr("y", (d, i) => rowScale(i) - 15.5).attr("font-size", 15).attr("fill", PALE).attr("text-anchor", "end").attr("dominant-baseline", "central").text((d, i) => owaspValues[i])
</script>
</body>
</html>
